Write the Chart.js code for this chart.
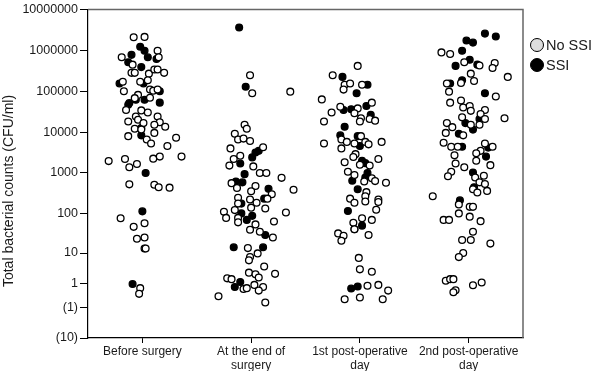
<!DOCTYPE html>
<html>
<head>
<meta charset="utf-8">
<script src="https://cdn.jsdelivr.net/npm/chart.js@4/dist/chart.umd.min.js"></script>
<style>
  html, body { margin: 0; padding: 0; background: #fff; }
  #wrap { width: 600px; height: 371px; }
</style>
</head>
<body>
<div id="wrap"><canvas id="bactChart"></canvas></div>
<script>
// y values are on the plot's scale: log10(count + 1), negative side mirrored
const categories = ['Before surgery', ['At the end of', 'surgery'], ['1st post-operative', 'day'], ['2nd post-operative', 'day']];
const yTickValues = [7, 6, 5, 4, 3, 2, 1.04, 0.30, -0.30, -1.04];
const yTickLabels = ['10000000', '1000000', '100000', '10000', '1000', '100', '10', '1', '(1)', '(10)'];

// [x position (category + jitter), log count]
const noSSIBefore = [[0.92,6.32],[1.02,6.33],[1.14,5.99],[0.81,5.83],[1.15,5.83],[0.91,5.65],[0.90,5.45],[0.93,5.45],[1.06,5.43],[1.11,5.53],[1.14,5.53],[1.20,5.45],[1.05,5.27],[0.98,5.23],[0.82,5.23],[0.83,5.00],[1.07,5.04],[1.10,5.01],[1.14,5.04],[0.96,4.91],[1.07,4.84],[0.93,4.83],[0.85,4.54],[0.99,4.53],[1.05,4.48],[0.94,4.38],[0.87,4.26],[0.96,4.30],[1.14,4.38],[1.16,4.24],[1.01,4.22],[1.11,4.18],[1.21,4.13],[0.93,4.08],[0.99,4.06],[1.11,3.98],[0.87,3.90],[1.04,3.82],[1.08,3.72],[1.31,3.86],[1.23,3.66],[1.36,3.40],[0.69,3.29],[0.84,3.34],[0.88,3.14],[0.95,3.22],[1.10,3.35],[1.16,3.40],[0.88,2.72],[1.11,2.71],[1.15,2.65],[1.25,2.64],[0.80,1.89],[0.92,1.68],[1.02,1.77],[0.95,1.39],[1.02,1.42],[1.02,1.15],[1.03,1.15],[0.98,0.18],[0.97,0.04]];
const ssiBefore = [[0.98,6.09],[1.02,5.99],[0.90,5.89],[0.87,5.71],[1.05,5.83],[1.13,5.79],[0.99,5.59],[0.79,5.19],[1.01,5.19],[1.16,5.00],[0.88,4.71],[0.94,4.79],[1.02,4.79],[1.16,4.72],[0.87,4.67],[0.99,4.10],[0.99,3.92],[1.03,3.00],[1.00,2.06],[0.91,0.28]];

const noSSIEnd = [[1.99,5.39],[2.01,4.95],[2.36,4.99],[1.94,4.18],[1.96,4.08],[1.85,3.96],[1.88,3.82],[1.93,3.84],[1.99,3.78],[1.81,3.60],[2.11,3.63],[1.84,3.34],[1.90,3.42],[1.80,3.18],[2.02,3.16],[2.08,3.00],[2.14,3.00],[2.28,2.88],[1.82,2.75],[2.04,2.68],[1.87,2.63],[2.00,2.55],[2.19,2.48],[2.39,2.59],[1.88,2.39],[1.99,2.35],[2.05,2.27],[2.15,2.37],[1.85,2.09],[1.88,2.25],[2.00,2.15],[2.13,2.13],[2.32,2.03],[1.75,2.05],[1.77,1.90],[1.88,1.90],[1.88,1.79],[2.04,1.74],[2.21,1.81],[1.99,1.61],[2.08,1.56],[2.20,1.42],[1.97,1.16],[2.06,1.03],[1.99,0.94],[1.98,0.86],[2.12,0.71],[1.98,0.56],[2.04,0.52],[2.07,0.44],[2.22,0.53],[1.78,0.42],[1.82,0.40],[2.03,0.26],[2.11,0.21],[1.93,0.16],[1.96,0.18],[2.07,0.12],[1.70,-0.02],[2.13,-0.17]];
const ssiEnd = [[1.89,6.56],[1.95,5.11],[2.04,3.50],[2.01,3.38],[2.07,3.54],[1.90,3.23],[1.94,2.97],[1.86,2.79],[1.92,2.77],[2.16,2.61],[2.12,2.37],[1.91,2.25],[1.91,2.01],[2.01,1.95],[1.96,1.85],[2.13,1.48],[1.84,1.18],[2.11,1.18],[1.90,0.33],[1.85,0.21]];

const noSSIDay1 = [[2.98,5.62],[2.75,5.39],[2.86,5.16],[2.91,5.19],[3.02,5.16],[2.85,5.04],[2.65,4.80],[2.82,4.62],[2.74,4.48],[2.98,4.58],[3.11,4.72],[2.95,4.46],[3.01,4.34],[3.09,4.32],[3.14,4.28],[2.67,4.26],[3.00,4.26],[3.01,3.90],[2.83,3.82],[2.88,3.76],[2.95,3.72],[3.05,3.76],[3.08,3.70],[2.67,3.72],[3.20,3.76],[2.83,3.60],[2.96,3.46],[2.94,3.39],[2.86,3.26],[3.00,3.20],[3.09,3.18],[3.17,3.34],[2.89,3.03],[2.95,2.95],[3.04,2.79],[3.11,2.87],[3.14,2.80],[3.24,2.76],[3.06,2.53],[3.05,2.43],[2.91,2.37],[2.95,2.27],[3.05,2.30],[3.17,2.35],[3.17,2.29],[3.15,2.10],[3.02,1.89],[3.11,1.85],[2.94,1.78],[2.95,1.62],[3.08,1.48],[2.80,1.52],[2.85,1.46],[2.83,1.34],[2.99,0.92],[3.00,0.64],[3.11,0.58],[3.07,0.24],[3.17,0.26],[3.26,0.12],[2.86,-0.09],[3.00,-0.05],[3.21,-0.09]];
const ssiDay1 = [[2.84,5.35],[3.07,5.16],[2.97,4.95],[2.85,4.54],[2.92,4.56],[3.06,4.64],[3.10,4.42],[2.86,4.13],[2.82,3.92],[2.98,3.90],[3.00,3.66],[3.02,3.30],[3.05,3.24],[3.07,3.00],[3.05,2.89],[2.93,2.81],[2.98,2.60],[2.89,2.07],[2.95,1.62],[3.02,1.71],[2.92,0.17],[2.98,0.22]];

const noSSIDay2 = [[3.75,5.95],[3.83,5.91],[3.96,5.71],[4.10,5.63],[4.24,5.69],[4.22,5.57],[4.02,5.43],[4.36,5.35],[3.80,5.19],[3.93,5.20],[4.05,5.25],[3.82,4.99],[4.25,4.87],[3.83,4.72],[3.93,4.77],[3.95,4.60],[4.01,4.64],[4.02,4.52],[4.15,4.54],[4.11,4.44],[4.15,4.32],[3.94,4.36],[4.33,4.34],[3.80,4.22],[3.85,4.12],[4.02,4.18],[4.10,4.18],[3.79,3.98],[3.95,3.92],[3.77,3.74],[3.84,3.64],[3.90,3.64],[4.15,3.72],[4.22,3.64],[4.11,3.54],[3.87,3.43],[4.07,3.48],[4.07,3.30],[3.88,3.23],[3.96,3.14],[4.20,3.19],[3.84,3.03],[3.81,2.92],[4.14,2.93],[4.06,2.89],[4.10,2.77],[4.15,2.73],[4.04,2.60],[4.17,2.56],[4.08,2.52],[3.67,2.43],[3.91,2.23],[4.01,2.17],[4.04,2.17],[3.91,2.01],[4.01,1.93],[3.77,1.85],[3.82,1.85],[4.11,1.82],[4.04,1.56],[4.02,1.36],[3.94,1.36],[4.20,1.27],[3.95,1.04],[3.91,0.94],[3.79,0.36],[3.83,0.40],[3.86,0.40],[3.88,0.13],[3.86,0.08],[4.04,0.25],[4.12,0.32]];
const ssiDay2 = [[4.15,6.41],[4.25,6.34],[3.98,6.24],[4.04,6.19],[3.94,5.99],[4.01,5.77],[3.88,5.62],[4.08,5.65],[3.94,5.27],[3.83,5.19],[4.15,4.95],[4.10,4.32],[3.97,4.22],[4.04,4.06],[3.91,3.96],[3.94,3.64],[4.18,3.62],[4.16,3.40],[4.04,3.01],[4.05,2.65],[3.92,2.33]];

const toPoints = arr => arr.map(p => ({ x: p[0], y: p[1] }));
const noSSI = [].concat(noSSIBefore, noSSIEnd, noSSIDay1, noSSIDay2);
const ssi = [].concat(ssiBefore, ssiEnd, ssiDay1, ssiDay2);

const FONT = 'Arial, "Liberation Sans", sans-serif';

// frame, y title and legend drawn by hand
const extras = {
  id: 'extras',
  afterDraw(chart) {
    const ctx = chart.ctx, a = chart.chartArea;
    ctx.save();
    ctx.strokeStyle = '#666';
    ctx.lineWidth = 1.5;
    ctx.beginPath();
    ctx.moveTo(a.left, a.top); ctx.lineTo(a.right, a.top); ctx.lineTo(a.right, a.bottom);
    ctx.stroke();

    ctx.fillStyle = '#1a1a1a';
    ctx.font = '14px ' + FONT;
    ctx.translate(9, 191);
    ctx.rotate(-Math.PI / 2);
    ctx.textAlign = 'center';
    ctx.textBaseline = 'middle';
    ctx.fillText('Total bacterial counts (CFU/ml)', 0, 0);
    ctx.restore();

    ctx.save();
    const items = [{ text: 'No SSI', fill: '#ddd' }, { text: 'SSI', fill: '#000' }];
    items.forEach((it, i) => {
      const cy = 45 + i * 20;
      ctx.beginPath();
      ctx.arc(537, cy, 6.5, 0, Math.PI * 2);
      ctx.fillStyle = it.fill;
      ctx.fill();
      ctx.strokeStyle = '#000';
      ctx.lineWidth = 1;
      ctx.stroke();
      ctx.fillStyle = '#1a1a1a';
      ctx.font = '14.5px ' + FONT;
      ctx.textBaseline = 'middle';
      ctx.fillText(it.text, 546, cy + 1);
    });
    ctx.restore();
  }
};

const chart = new Chart(document.getElementById('bactChart').getContext('2d'), {
  type: 'scatter',
  data: {
    datasets: [{
      label: 'No SSI',
      data: toPoints(noSSI),
      backgroundColor: '#fff',
      borderColor: '#000',
      borderWidth: 1.3,
      pointRadius: 3.4
    }, {
      label: 'SSI',
      data: toPoints(ssi),
      backgroundColor: '#000',
      borderColor: '#000',
      borderWidth: 1.3,
      pointRadius: 3.4
    }]
  },
  options: {
    responsive: true,
    maintainAspectRatio: false,
    animation: false,
    layout: { padding: { top: 5, right: 77, left: 0, bottom: 0 } },
    plugins: { legend: { display: false }, tooltip: { enabled: false } },
    scales: {
      x: {
        type: 'linear',
        min: 0.5,
        max: 4.5,
        afterBuildTicks: s => { s.ticks = [1, 2, 3, 4].map(v => ({ value: v })); },
        afterFit: s => { s.height = 33; },
        ticks: {
          callback: (v, i) => categories[i],
          color: '#1a1a1a',
          font: { family: FONT, size: 12 },
          padding: 1,
          maxRotation: 0,
          autoSkip: false
        },
        grid: { drawOnChartArea: false, drawTicks: true, tickLength: 5, color: '#000' },
        border: { display: true, color: '#000', width: 1.2 }
      },
      y: {
        type: 'linear',
        min: -1.04,
        max: 7,
        afterBuildTicks: s => { s.ticks = yTickValues.map(v => ({ value: v })); },
        afterFit: s => { s.width = 88; },
        ticks: {
          callback: (v, i) => yTickLabels[i],
          color: '#1a1a1a',
          font: { family: FONT, size: 12.5 },
          padding: 2,
          autoSkip: false
        },
        grid: { drawOnChartArea: false, drawTicks: true, tickLength: 8, color: '#000' },
        border: { display: true, color: '#000', width: 1.2 }
      }
    }
  },
  plugins: [extras]
});

window.chart = chart;
</script>
</body>
</html>
